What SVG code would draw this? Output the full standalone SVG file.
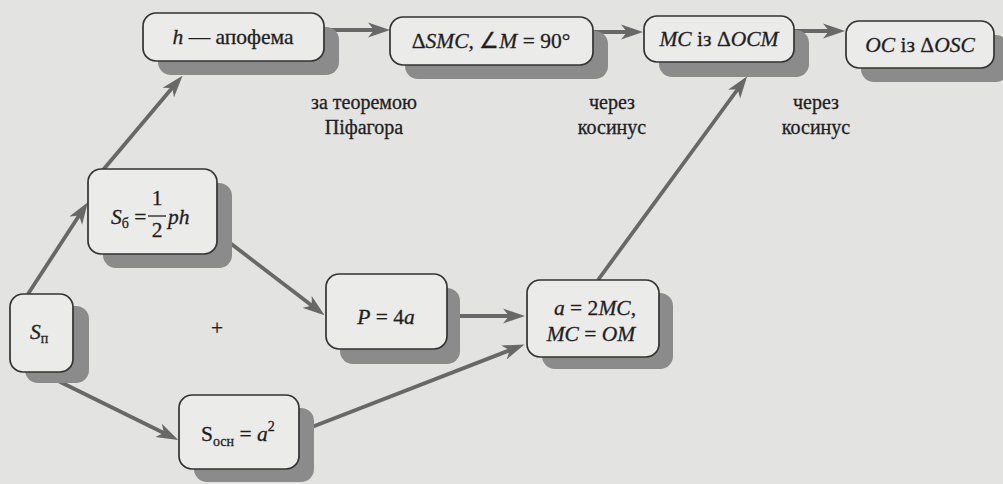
<svg xmlns="http://www.w3.org/2000/svg" width="1003" height="484" viewBox="0 0 1003 484">
  <style>
    text { font-family: "Liberation Serif", "Times New Roman", serif; font-size: 21.5px; fill: #1f1f1f; stroke: #1f1f1f; stroke-width: 0.3; }
    .lbl { font-size: 20px; text-anchor: middle; }
    .c { text-anchor: middle; }
    .i { font-style: italic; }
    .sub { font-size: 14px; }
    .box { fill: #ebebe9; stroke: #333333; stroke-width: 1.7; }
    .shadow { fill: #8b8b8b; }
    .edge { stroke: #686868; stroke-width: 3.8; fill: none; marker-end: url(#arrow); }
  </style>
  <defs>
    <marker id="arrow" viewBox="0 0 22 16" refX="15" refY="8" markerWidth="22" markerHeight="16" markerUnits="userSpaceOnUse" orient="auto">
      <path d="M0,0.5 L22,8 L0,15.5 L6,8 Z" fill="#686868"/>
    </marker>
  </defs>

  <rect width="1003" height="484" fill="#e3e3e1"/>

  <!-- connectors -->
  <g id="connectors">
    <line class="edge" x1="324" y1="30" x2="383" y2="30"/>
    <line class="edge" x1="593" y1="32" x2="636" y2="32"/>
    <line class="edge" x1="794" y1="31" x2="838" y2="31"/>
    <line class="edge" x1="28" y1="294" x2="84" y2="208"/>
    <line class="edge" x1="103" y1="170" x2="178" y2="81"/>
    <line class="edge" x1="217" y1="233" x2="319" y2="311"/>
    <line class="edge" x1="40" y1="372" x2="172" y2="437"/>
    <line class="edge" x1="299" y1="432" x2="518" y2="347"/>
    <line class="edge" x1="447" y1="316" x2="518" y2="316"/>
    <line class="edge" x1="598" y1="280" x2="743" y2="82"/>
  </g>

  <!-- plus sign between the side area and the base area -->
  <text x="217" y="335" class="c" font-size="27" stroke-width="0">+</text>

  <!-- edge labels -->
  <g id="labels">
    <text class="lbl" x="364" y="109">за теоремою</text>
    <text class="lbl" x="364" y="134">Піфагора</text>
    <text class="lbl" x="612" y="109">через</text>
    <text class="lbl" x="612" y="134">косинус</text>
    <text class="lbl" x="816" y="109">через</text>
    <text class="lbl" x="816" y="134">косинус</text>
  </g>

  <g id="node-apothem">
    <rect class="shadow" x="158" y="27" width="181" height="48" rx="13"/>
    <rect class="box" x="143" y="13" width="181" height="48" rx="13"/>
    <text class="c" x="233" y="44"><tspan class="i">h</tspan> — апофема</text>
  </g>

  <g id="node-smc">
    <rect class="shadow" x="405" y="31" width="203" height="48" rx="13"/>
    <rect class="box" x="390" y="17" width="203" height="48" rx="13"/>
    <text class="c" x="491" y="48">Δ<tspan class="i">SMC</tspan>, ∠<tspan class="i">M</tspan> = 90°</text>
  </g>

  <g id="node-mc">
    <rect class="shadow" x="659" y="30" width="150" height="47" rx="13"/>
    <rect class="box" x="644" y="16" width="150" height="46" rx="13"/>
    <text class="c" x="719" y="46"><tspan class="i">MC</tspan> із Δ<tspan class="i">OCM</tspan></text>
  </g>

  <g id="node-oc">
    <rect class="shadow" x="861" y="35" width="148" height="47" rx="13"/>
    <rect class="box" x="846" y="21" width="148" height="47" rx="13"/>
    <text class="c" x="920" y="52"><tspan class="i">OC</tspan> із Δ<tspan class="i">OSC</tspan></text>
  </g>

  <g id="node-side-area">
    <rect class="shadow" x="103" y="183" width="129" height="85" rx="13"/>
    <rect class="box" x="88" y="169" width="129" height="85" rx="13"/>
    <text x="111" y="224"><tspan class="i">S</tspan><tspan class="sub" dy="4">б</tspan><tspan dy="-4"> =</tspan></text>
    <text class="c" x="157" y="205">1</text>
    <line x1="148" y1="216" x2="166" y2="216" stroke="#1f1f1f" stroke-width="1.3"/>
    <text class="c" x="157" y="237">2</text>
    <text class="i" x="168" y="224">ph</text>
  </g>

  <g id="node-total-area">
    <rect class="shadow" x="25" y="306" width="64" height="77" rx="13"/>
    <rect class="box" x="10" y="294" width="63" height="78" rx="13"/>
    <text x="30" y="339"><tspan class="i">S</tspan><tspan class="sub" dy="4">п</tspan></text>
  </g>

  <g id="node-perimeter">
    <rect class="shadow" x="340" y="288" width="120" height="76" rx="13"/>
    <rect class="box" x="326" y="274" width="121" height="75" rx="13"/>
    <text class="c" x="386" y="324"><tspan class="i">P</tspan> = 4<tspan class="i">a</tspan></text>
  </g>

  <g id="node-side">
    <rect class="shadow" x="542" y="293" width="131" height="76" rx="13"/>
    <rect class="box" x="527" y="280" width="132" height="77" rx="13"/>
    <text class="c" x="595" y="315"><tspan class="i">a</tspan> = 2<tspan class="i">MC</tspan>,</text>
    <text class="c" x="591" y="341"><tspan class="i">MC</tspan> = <tspan class="i">OM</tspan></text>
  </g>

  <g id="node-base-area">
    <rect class="shadow" x="194" y="408" width="120" height="74" rx="13"/>
    <rect class="box" x="179" y="395" width="120" height="74" rx="13"/>
    <text x="201" y="441">S<tspan class="sub" dy="5">осн</tspan><tspan dy="-5"> = </tspan><tspan class="i">a</tspan><tspan class="sub" dy="-10">2</tspan></text>
  </g>
</svg>
